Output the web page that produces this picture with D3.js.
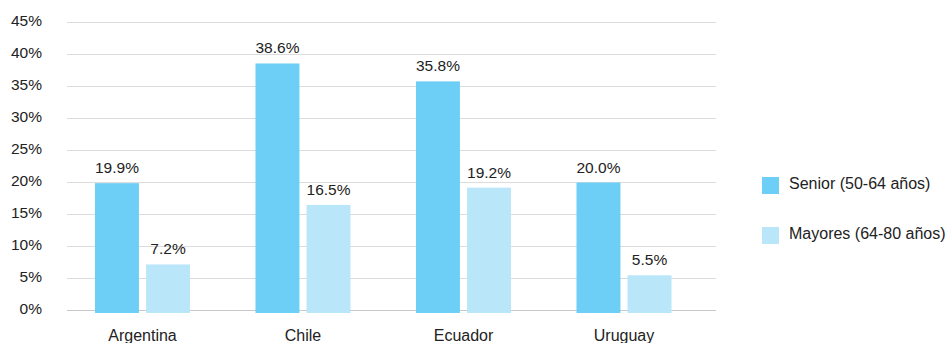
<!DOCTYPE html>
<html>
<head>
<meta charset="utf-8">
<script src="https://cdn.jsdelivr.net/npm/d3@7/dist/d3.min.js"></script>
<style>
  html, body { margin: 0; padding: 0; background: #fff; }
  svg { display: block; font-family: "Liberation Sans", Arial, Helvetica, sans-serif; }
</style>
</head>
<body>
<svg id="chart" width="946" height="343"></svg>
<script>
// Share of each age group, by country (percent)
const countries = ["Argentina", "Chile", "Ecuador", "Uruguay"];
const seriesNames = ["Senior (50-64 años)", "Mayores (64-80 años)"];
const seniorValues = [19.9, 38.6, 35.8, 20.0];
const mayoresValues = [7.2, 16.5, 19.2, 5.5];
const yTicks = [0, 5, 10, 15, 20, 25, 30, 35, 40, 45];
const colors = ["#6dcff6", "#bae6fa"];

const svg = d3.select("#chart");

const y = d3.scaleLinear().domain([0, 45]).range([310.5, 22.5]);
const x0 = d3.scaleBand().domain(countries).range([62.25, 704.25]).padding(0);
const x1 = d3.scaleBand().domain([0, 1]).range([0, 95]).paddingInner(0.14);
const groupOffset = (x0.bandwidth() - 95) / 2;

// Gridlines
svg.append("g")
  .selectAll("line")
  .data(yTicks)
  .join("line")
  .attr("x1", 67).attr("x2", 716)
  .attr("y1", d => y(d)).attr("y2", d => y(d))
  .attr("stroke", d => d === 0 ? "#c8c8c8" : "#dcdcdc")
  .attr("stroke-width", 1);

// Y tick labels
svg.append("g")
  .selectAll("text")
  .data(yTicks)
  .join("text")
  .attr("x", 42)
  .attr("y", d => y(d) - 1)
  .attr("text-anchor", "end")
  .attr("dominant-baseline", "middle")
  .attr("font-size", 15.5)
  .attr("fill", "#222")
  .text(d => d + "%");

const rows = countries.map((c, i) => ({ country: c, values: [seniorValues[i], mayoresValues[i]] }));

const groups = svg.append("g")
  .selectAll("g")
  .data(rows)
  .join("g")
  .attr("transform", d => `translate(${x0(d.country) + groupOffset},0)`);

groups.selectAll("rect")
  .data(d => d.values.map((v, s) => ({ v, s })))
  .join("rect")
  .attr("x", d => x1(d.s))
  .attr("width", x1.bandwidth())
  .attr("y", d => y(d.v))
  .attr("height", d => y(0) - y(d.v) + 2.5)
  .attr("fill", d => colors[d.s]);

groups.selectAll("text.val")
  .data(d => d.values.map((v, s) => ({ v, s })))
  .join("text")
  .attr("class", "val")
  .attr("x", d => x1(d.s) + x1.bandwidth() / 2)
  .attr("y", d => y(d.v) - 10)
  .attr("text-anchor", "middle")
  .attr("font-size", 15.5)
  .attr("fill", "#222")
  .text(d => d.v.toFixed(1) + "%");

// Category labels
svg.append("g")
  .selectAll("text")
  .data(countries)
  .join("text")
  .attr("x", d => x0(d) + x0.bandwidth() / 2)
  .attr("y", 341)
  .attr("text-anchor", "middle")
  .attr("font-size", 16)
  .attr("fill", "#222")
  .text(d => d);

// Legend
const legend = svg.append("g")
  .selectAll("g")
  .data(seriesNames)
  .join("g")
  .attr("transform", (d, i) => `translate(762,${177 + i * 50})`);

legend.append("rect")
  .attr("width", 17).attr("height", 17)
  .attr("fill", (d, i) => colors[i]);

legend.append("text")
  .attr("x", 27)
  .attr("y", 8)
  .attr("dominant-baseline", "middle")
  .attr("font-size", 16)
  .attr("fill", "#222")
  .text(d => d);
</script>
</body>
</html>
